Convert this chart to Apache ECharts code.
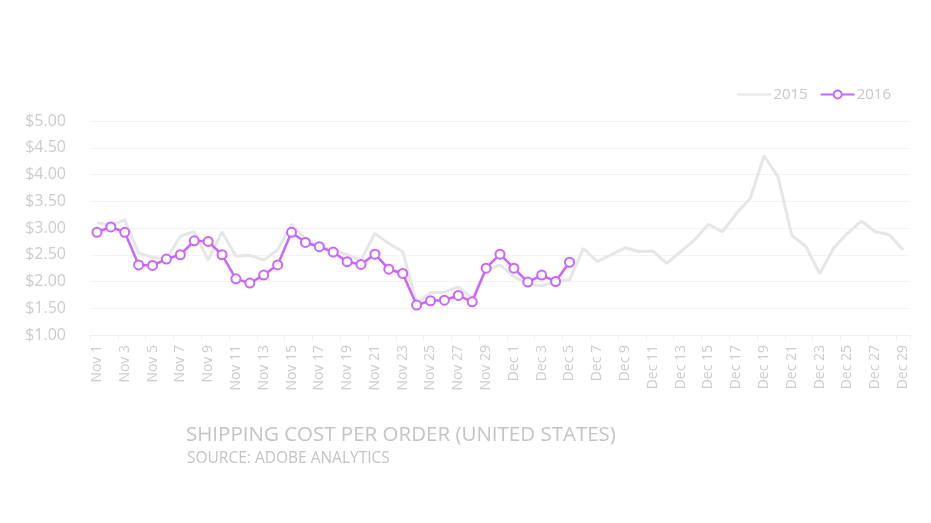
<!DOCTYPE html>
<html>
<head>
<meta charset="utf-8">
<script src="https://cdn.jsdelivr.net/npm/echarts@6/dist/echarts.min.js"></script>
<style>html,body{margin:0;padding:0;background:#fff;}#c{width:931px;height:523px;}</style>
</head>
<body>
<div id="c"></div>
<script>
var categories = [
  'Nov 1','Nov 2','Nov 3','Nov 4','Nov 5','Nov 6','Nov 7','Nov 8','Nov 9','Nov 10',
  'Nov 11','Nov 12','Nov 13','Nov 14','Nov 15','Nov 16','Nov 17','Nov 18','Nov 19','Nov 20',
  'Nov 21','Nov 22','Nov 23','Nov 24','Nov 25','Nov 26','Nov 27','Nov 28','Nov 29','Nov 30',
  'Dec 1','Dec 2','Dec 3','Dec 4','Dec 5','Dec 6','Dec 7','Dec 8','Dec 9','Dec 10',
  'Dec 11','Dec 12','Dec 13','Dec 14','Dec 15','Dec 16','Dec 17','Dec 18','Dec 19','Dec 20',
  'Dec 21','Dec 22','Dec 23','Dec 24','Dec 25','Dec 26','Dec 27','Dec 28','Dec 29'
];
var values2015 = [
  3.10, 3.05, 3.15, 2.53, 2.45, 2.42, 2.85, 2.93, 2.40, 2.93,
  2.47, 2.49, 2.40, 2.59, 3.07, 2.80, 2.65, 2.59, 2.50, 2.40,
  2.90, 2.71, 2.56, 1.60, 1.79, 1.80, 1.90, 1.69, 2.21, 2.31,
  2.09, 1.95, 1.92, 2.00, 2.03, 2.62, 2.37, 2.50, 2.63, 2.56,
  2.57, 2.34, 2.56, 2.78, 3.07, 2.93, 3.27, 3.55, 4.35, 3.96,
  2.86, 2.66, 2.15, 2.62, 2.90, 3.13, 2.93, 2.88, 2.59
];
var values2016 = [
  2.92, 3.02, 2.92, 2.31, 2.30, 2.42, 2.50, 2.76, 2.75, 2.50,
  2.05, 1.97, 2.12, 2.31, 2.92, 2.73, 2.65, 2.55, 2.37, 2.32,
  2.51, 2.23, 2.15, 1.56, 1.64, 1.65, 1.74, 1.62, 2.25, 2.51,
  2.25, 1.99, 2.12, 2.00, 2.36
];
var yTicks = { min: 1, max: 5, interval: 0.5 };
var titleText = 'SHIPPING COST PER ORDER (UNITED STATES)';
var subText = 'SOURCE: ADOBE ANALYTICS';

var FONT = '"Open Sans", "Noto Sans", sans-serif';
var chart = echarts.init(document.getElementById('c'));
chart.setOption({
  backgroundColor: '#ffffff',
  animation: false,
  title: [
    { text: titleText, left: 181, top: 420,
      textStyle: { fontFamily: FONT, fontSize: 20.5, fontWeight: 'normal', color: '#c4c4c4' } },
    { text: subText, left: 182, top: 446,
      textStyle: { fontFamily: FONT, fontSize: 15.5, fontWeight: 'normal', color: '#c4c4c4' } }
  ],
  legend: {
    right: 35, top: 82,
    itemWidth: 34, itemHeight: 10, itemGap: 12,
    textStyle: { fontFamily: FONT, fontSize: 15, color: '#c8c8c8', padding: [0, 0, 0, -3] },
    data: [
      { name: '2015', icon: 'path://M0,4 L34,4 L34,6 L0,6 Z' },
      { name: '2016' }
    ]
  },
  grid: { left: 90, right: 21, top: 121, bottom: 188 },
  xAxis: {
    type: 'category',
    data: categories,
    boundaryGap: true,
    axisLine: { show: true, lineStyle: { color: '#f0f0f0', width: 1 } },
    axisTick: { show: true, interval: 1, length: 5, lineStyle: { color: '#f0f0f0' } },
    axisLabel: { interval: 1, rotate: 90, margin: 10, color: '#cccccc', fontFamily: FONT, fontSize: 14 },
    splitLine: { show: false }
  },
  yAxis: {
    type: 'value',
    min: yTicks.min, max: yTicks.max, interval: yTicks.interval,
    axisLine: { show: false },
    axisTick: { show: false },
    axisLabel: {
      margin: 24, color: '#cccccc', fontFamily: FONT, fontSize: 16,
      formatter: function (v) { return '$' + v.toFixed(2); }
    },
    splitLine: { lineStyle: { color: '#f3f3f3', width: 1 } }
  },
  series: [
    {
      name: '2015', type: 'line', data: values2015,
      showSymbol: false, symbol: 'none',
      lineStyle: { color: '#e6e6e6', width: 3 },
      itemStyle: { color: '#e6e6e6' },
      z: 1
    },
    {
      name: '2016', type: 'line', data: values2016,
      symbol: 'circle', symbolSize: 9, showSymbol: true,
      lineStyle: { color: '#c966ff', width: 2.5 },
      itemStyle: { color: '#ffffff', borderColor: '#c966ff', borderWidth: 2 },
      z: 2
    }
  ]
});
</script>
</body>
</html>
